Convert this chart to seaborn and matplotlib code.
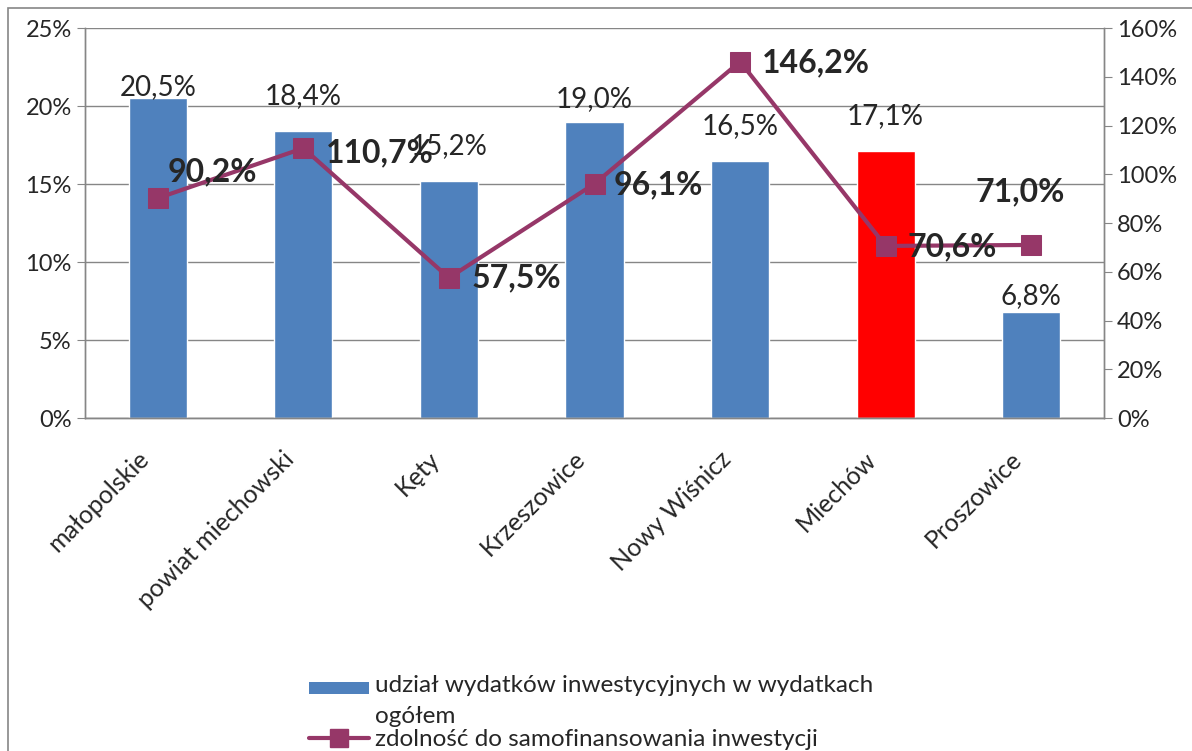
import matplotlib
matplotlib.use('Agg')
import matplotlib.pyplot as plt
import matplotlib.ticker as mticker
import matplotlib.transforms as mtransforms
from matplotlib.lines import Line2D
from matplotlib.patches import Patch, Rectangle
from matplotlib.legend_handler import HandlerPatch
import numpy as np
import pandas as pd
import seaborn as sns

# data
categories = ['małopolskie', 'powiat miechowski', 'Kęty', 'Krzeszowice',
              'Nowy Wiśnicz', 'Miechów', 'Proszowice']
udzial = [20.5, 18.4, 15.2, 19.0, 16.5, 17.1, 6.8]
zdolnosc = [90.2, 110.7, 57.5, 96.1, 146.2, 70.6, 71.0]
bar_colors = ['#4F81BD', '#4F81BD', '#4F81BD', '#4F81BD', '#4F81BD', '#FF0000', '#4F81BD']
line_color = '#963768'

bar_name = 'udział wydatków inwestycyjnych w wydatkach\nogółem'
line_name = 'zdolność do samofinansowania inwestycji'

# label nudges (points) to mimic manually placed labels
bar_lab_off = [8, 25, 25, 16, 25, 25, 11.5]
line_lab_off = [(7, 19), (16, -3.5), (16, 0), (14, -1), (16, -1), (16, -1), (-40, 38)]

sns.set_style('white')
plt.rcParams['font.family'] = ['Lato', 'DejaVu Sans']

df = pd.DataFrame({'kat': categories, 'udzial': udzial, 'zdolnosc': zdolnosc})

fig = plt.figure(figsize=(11.92, 7.51), dpi=100)
ax = fig.add_axes([0.0713, 0.4434, 0.8549, 0.5193])

sns.barplot(data=df, x='kat', y='udzial', hue='kat', palette=bar_colors,
            width=0.4, legend=False, ax=ax, saturation=1)
ax.set_ylim(0, 25)
ax.set_xlim(-0.5, len(categories) - 0.5)
ax.yaxis.set_major_locator(mticker.MultipleLocator(5))
ax.yaxis.set_major_formatter(mticker.FuncFormatter(lambda v, p: f'{v:.0f}%'))
ax.grid(axis='y', color='#868686', lw=1)
ax.set_axisbelow(True)
ax.set_xlabel('')
ax.set_ylabel('')

for i, v in enumerate(udzial):
    ax.annotate(f'{v:.1f}%'.replace('.', ','), (i, v), xytext=(0, bar_lab_off[i]),
                textcoords='offset points', ha='center', va='center', fontsize=20)

ax2 = ax.twinx()
x = np.arange(len(categories))
sns.lineplot(x=x, y=zdolnosc, ax=ax2, color=line_color, lw=3, marker='s',
             markersize=14, markeredgecolor=line_color, legend=False)
ax2.set_ylim(0, 160)
ax2.yaxis.set_major_locator(mticker.MultipleLocator(20))
ax2.yaxis.set_major_formatter(mticker.FuncFormatter(lambda v, p: f'{v:.0f}%'))
for i, v in enumerate(zdolnosc):
    ax2.annotate(f'{v:.1f}%'.replace('.', ','), (i, v), xytext=line_lab_off[i],
                 textcoords='offset points', ha='left', va='center',
                 fontsize=23, fontweight='bold')

for a in (ax, ax2):
    a.spines['top'].set_visible(False)
    for s in ('left', 'right', 'bottom'):
        a.spines[s].set_color('#868686')
        a.spines[s].set_linewidth(1)
    a.tick_params(axis='y', labelsize=17, length=6, color='#868686', direction='out')

ax.set_xticks(np.arange(len(categories) + 1) - 0.5, minor=True)
ax.set_xticks(x)
ax.set_xticklabels(categories, rotation=45, ha='right', rotation_mode='anchor', fontsize=18)
ax.tick_params(axis='x', which='major', length=0, pad=21)
ax.tick_params(axis='x', which='minor', length=7, color='#868686', direction='out')
ax.tick_params(axis='y', left=True)
ax2.tick_params(axis='y', right=True)
shift = mtransforms.ScaledTranslation(-21 / 100, 0, fig.dpi_scale_trans)
for lab in ax.get_xticklabels():
    lab.set_transform(lab.get_transform() + shift)


# legend: blue key sits next to the first line of the wrapped label
def top_patch(legend, orig_handle, xdescent, ydescent, width, height, fontsize):
    return Rectangle((-xdescent, -ydescent + 11), width, 8.6)


handles = [Patch(facecolor='#4F81BD', edgecolor='none'),
           Line2D([0], [0], color=line_color, lw=3, marker='s', markersize=13)]
leg = fig.legend(handles, [bar_name, line_name], loc='upper left',
                 bbox_to_anchor=(0.2494, 0.117), bbox_transform=fig.transFigure,
                 frameon=False, fontsize=17.5, handlelength=2.45, handletextpad=0.25,
                 labelspacing=0.1, borderpad=0,
                 handler_map={Patch: HandlerPatch(patch_func=top_patch)})
leg.get_texts()[0].set_linespacing(1.55)

# outer chart border
fig.patches.append(Rectangle((8 / 1192, -0.1), 1.2, 1 - 8 / 751 + 0.1,
                             transform=fig.transFigure, fill=False,
                             edgecolor='#868686', lw=1.2))

fig.savefig('out.png', dpi=100)
